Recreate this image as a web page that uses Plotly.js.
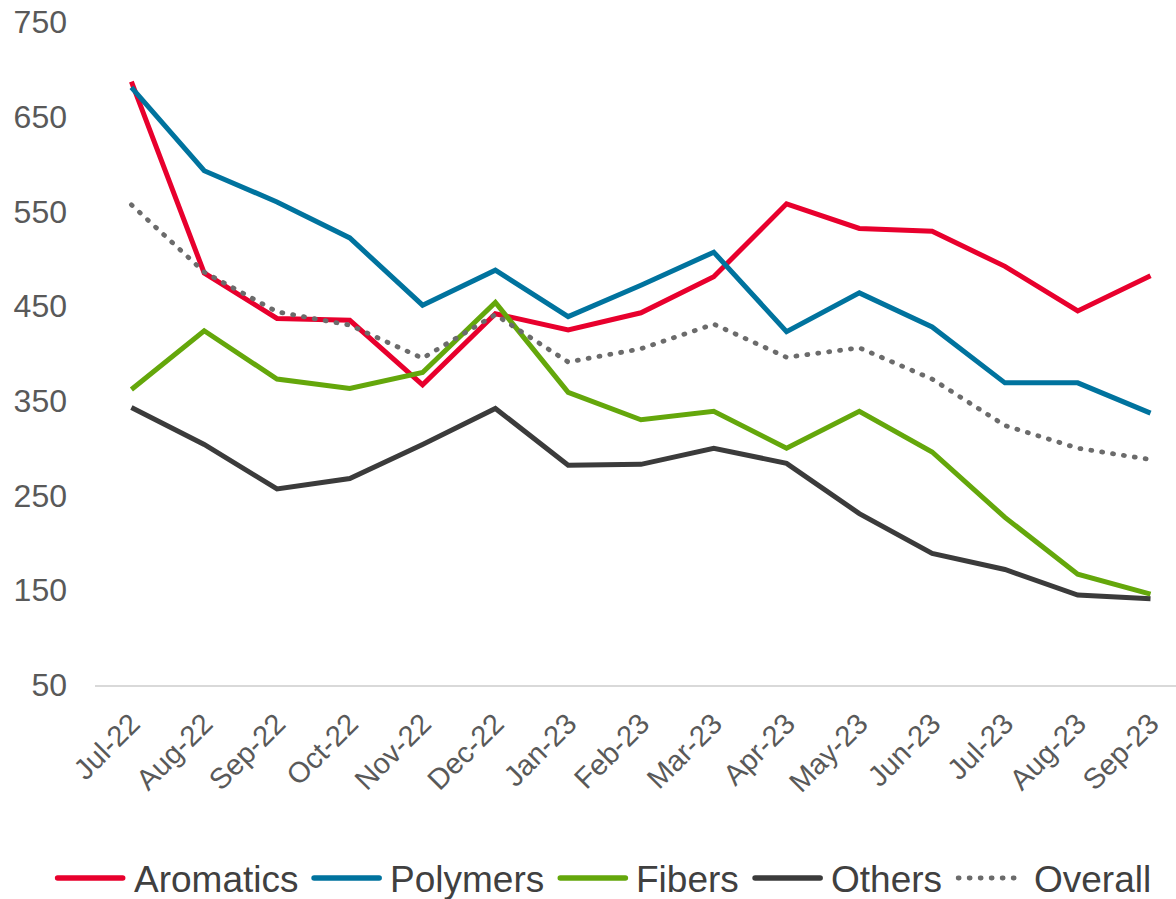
<!DOCTYPE html>
<html>
<head>
<meta charset="utf-8">
<script src="https://cdn.plot.ly/plotly-3.0.1.min.js"></script>
<style>
html,body{margin:0;padding:0;background:#fff;}
#chart{width:1176px;height:899px;}
</style>
</head>
<body>
<div id="chart"></div>
<script>
const months = ["Jul-22","Aug-22","Sep-22","Oct-22","Nov-22","Dec-22","Jan-23","Feb-23","Mar-23","Apr-23","May-23","Jun-23","Jul-23","Aug-23","Sep-23"];
const aromatics = [687, 485, 437, 435, 367, 442, 425, 443, 481, 558, 532, 529, 492, 445, 482];
const polymers  = [681, 593, 560, 522, 451, 488, 439, 472, 507, 423, 464, 428, 369, 369, 337];
const fibers    = [362, 424, 373, 363, 380, 454, 359, 330, 339, 300, 339, 296, 227, 167, 146];
const others    = [343, 304, 257, 268, 304, 342, 282, 283, 300, 284, 231, 189, 172, 145, 141];
const overall   = [557, 486, 444, 430, 395, 441, 391, 405, 431, 396, 406, 373, 324, 300, 288];

const seriesNames = ["Aromatics","Polymers","Fibers","Others","Overall"];
const seriesData = [aromatics, polymers, fibers, others, overall];
const colors = ["#e8002d","#00739e","#64a70b","#3b3b3b","#6b6b6b"];
const dashes = ["solid","solid","solid","solid","1px,10px"];
const widths = [5,5,5,5,4.8];

const traces = seriesNames.map((n,i)=>({
  type:"scatter", mode:"lines", name:n, x:months, y:seriesData[i],
  line:{color:colors[i], width:widths[i], dash:dashes[i]},
  hoverinfo:"skip", showlegend:false
}));

const FAM = "Liberation Sans, Arial, sans-serif";
const W = 1176, H = 899;
const M = {l:95, r:0, t:22, b:214};
const plotW = W - M.l - M.r, plotH = H - M.t - M.b;

// custom legend (long line samples like the original)
const legSize = 37, sampleLen = 71, sampleGap = 8, itemGap = 13, legCenterX = 603, legCenterY = 878;
const ctx = document.createElement("canvas").getContext("2d");
ctx.font = legSize + "px 'Liberation Sans'";
const textW = seriesNames.map(n => ctx.measureText(n).width);
const total = textW.reduce((a,b)=>a+b,0) + seriesNames.length*(sampleLen+sampleGap) + itemGap*(seriesNames.length-1);
const px2x = p => (p - M.l)/plotW;
const py2y = p => (H - M.b - p)/plotH;
const shapes = [], annotations = [];
let cx = legCenterX - total/2;
seriesNames.forEach((n,i)=>{
  shapes.push({type:"line", xref:"paper", yref:"paper",
    x0:px2x(cx+3), x1:px2x(cx+sampleLen-3), y0:py2y(legCenterY), y1:py2y(legCenterY),
    line:{color:colors[i], width:(i===4?4.8:5.6), dash:dashes[i]}});
  cx += sampleLen + sampleGap;
  annotations.push({xref:"paper", yref:"paper", x:px2x(cx-2), y:py2y(legCenterY+1),
    xanchor:"left", yanchor:"middle", showarrow:false, text:n,
    font:{family:FAM, size:legSize, color:"#404040"}});
  cx += textW[i] + itemGap;
});

const layout = {
  width:W, height:H,
  margin:M,
  paper_bgcolor:"#fff", plot_bgcolor:"#fff",
  font:{family:FAM, color:"#595959"},
  showlegend:false,
  shapes:shapes, annotations:annotations,
  xaxis:{type:"category", range:[-0.5,14.35], showgrid:false, zeroline:false,
         showline:true, linecolor:"#d9d9d9", linewidth:2, ticks:"", ticklabelstandoff:8,
         tickangle:-45, tickfont:{family:FAM, size:29, color:"#595959"}},
  yaxis:{range:[50,750], tickvals:[50,150,250,350,450,550,650,750], showgrid:false,
         zeroline:false, showline:false, ticks:"", ticklabelstandoff:27,
         tickfont:{family:FAM, size:32, color:"#595959"}, automargin:false}
};

Plotly.newPlot("chart", traces, layout, {displayModeBar:false, staticPlot:true}).then(()=>{
  document.querySelectorAll("#chart .shapelayer path").forEach(p=>{ p.style.strokeLinecap = "round"; });
  document.querySelectorAll("#chart path").forEach(p=>{
    const da = p.style.strokeDasharray || p.getAttribute("stroke-dasharray");
    if (da && da !== "none" && da !== "") p.style.strokeLinecap = "round";
  });
});
</script>
</body>
</html>
